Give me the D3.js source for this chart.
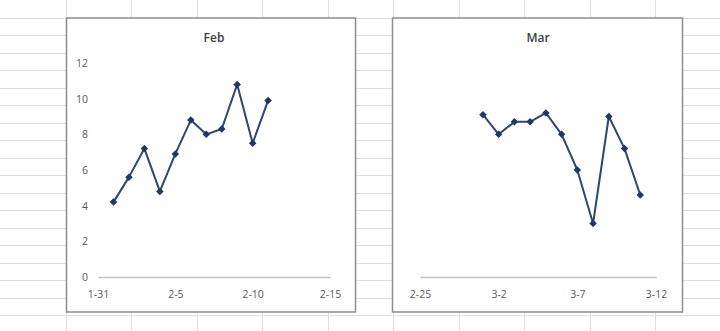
<!DOCTYPE html>
<html>
    <head>
        <meta charset="utf-8">
        <script src="https://d3js.org/d3.v7.min.js"></script>
        <title>Feb / Mar</title>
    </head>
    <body>
        <div id="my_dataviz"></div>
    </body>
    <style>
        body {
            margin: 0;
            background: #fff;
            font-family: "Open Sans", Lato, Helvetica, Arial, sans-serif;
        }
    </style>
    <script>
        // data
        var febDays = ["2015-02-01", "2015-02-02", "2015-02-03", "2015-02-04", "2015-02-05", "2015-02-06",
                       "2015-02-07", "2015-02-08", "2015-02-09", "2015-02-10", "2015-02-11"];
        var febValues = [4.2, 5.6, 7.2, 4.8, 6.9, 8.8, 8.0, 8.3, 10.8, 7.5, 9.9];
        var febTicks = ["2015-01-31", "2015-02-05", "2015-02-10", "2015-02-15"];

        var marDays = ["2015-03-01", "2015-03-02", "2015-03-03", "2015-03-04", "2015-03-05", "2015-03-06",
                       "2015-03-07", "2015-03-08", "2015-03-09", "2015-03-10", "2015-03-11"];
        var marValues = [9.1, 8.0, 8.7, 8.7, 9.2, 8.0, 6.0, 3.0, 9.0, 7.2, 4.6];
        var marTicks = ["2015-02-25", "2015-03-02", "2015-03-07", "2015-03-12"];

        var yTicks = [0, 2, 4, 6, 8, 10, 12];

        var W = 720, H = 331;
        var parse = d3.utcParse("%Y-%m-%d");
        var fmt = d3.utcFormat("%-m-%-d");

        var svg = d3.select("#my_dataviz")
            .append("svg")
            .attr("width", W)
            .attr("height", H);

        // spreadsheet grid behind the charts
        var grid = svg.append("g").attr("stroke", "#dedede").attr("stroke-width", 1);
        d3.range(1, 12).forEach(function(i) {
            var x = Math.round(65.5 * i) + 0.5;
            grid.append("line").attr("x1", x).attr("x2", x).attr("y1", 0).attr("y2", H);
        });
        d3.range(1, 20).forEach(function(i) {
            var y = Math.round(17.5 * i) + 0.5;
            grid.append("line").attr("x1", 0).attr("x2", W).attr("y1", y).attr("y2", y);
        });

        function drawChart(opt) {
            var g = svg.append("g");

            // chart area
            g.append("rect")
                .attr("x", opt.box[0])
                .attr("y", 18)
                .attr("width", opt.box[1] - opt.box[0])
                .attr("height", 294)
                .attr("fill", "#fff")
                .attr("stroke", "#8c8c8c")
                .attr("stroke-width", 1.5);

            var x = d3.scaleUtc()
                .domain([parse(opt.ticks[0]), parse(opt.ticks[opt.ticks.length - 1])])
                .range(opt.range);
            var y = d3.scaleLinear()
                .domain([0, 12])
                .range([277, 63]);

            g.append("text")
                .attr("x", (opt.range[0] + opt.range[1]) / 2)
                .attr("y", 42)
                .attr("text-anchor", "middle")
                .attr("font-size", 12)
                .attr("font-weight", 600)
                .attr("fill", "#404040")
                .text(opt.title);

            // x axis: baseline + date labels
            var xAxis = d3.axisBottom(x)
                .tickValues(opt.ticks.map(parse))
                .tickFormat(fmt)
                .tickSize(0)
                .tickPadding(14);
            var ax = g.append("g")
                .attr("transform", "translate(0," + y(0) + ")")
                .call(xAxis);
            ax.select(".domain").attr("stroke", "#bfbfbf").attr("stroke-width", 1.3);
            ax.selectAll("text")
                .attr("font-size", 10.5)
                .attr("font-family", "'Open Sans', sans-serif")
                .attr("fill", "#595959");

            if (opt.yAxis) {
                var yAxis = d3.axisLeft(y)
                    .tickValues(yTicks)
                    .tickSize(0)
                    .tickPadding(0);
                var ay = g.append("g")
                    .attr("transform", "translate(88,0)")
                    .call(yAxis);
                ay.select(".domain").remove();
                ay.selectAll("text")
                    .attr("font-size", 10.5)
                    .attr("font-family", "'Open Sans', sans-serif")
                    .attr("fill", "#595959");
            }

            var pts = opt.days.map(function(d, i) { return {date: parse(d), value: opt.values[i]}; });

            g.append("path")
                .datum(pts)
                .attr("fill", "none")
                .attr("stroke", "#2e4670")
                .attr("stroke-width", 2)
                .attr("stroke-linejoin", "round")
                .attr("d", d3.line()
                    .x(function(d) { return x(d.date); })
                    .y(function(d) { return y(d.value); }));

            // excel-style diamond markers (rotated square)
            g.append("g")
                .selectAll("path")
                .data(pts)
                .enter()
                .append("path")
                .attr("transform", function(d) { return "translate(" + x(d.date) + "," + y(d.value) + ") rotate(45)"; })
                .attr("d", d3.symbol().type(d3.symbolSquare).size(28))
                .attr("fill", "#1f3864");
        }

        drawChart({title: "Feb", box: [66.5, 355.5], range: [98, 330],
                   ticks: febTicks, days: febDays, values: febValues, yAxis: true});
        drawChart({title: "Mar", box: [392.5, 682.5], range: [420, 656],
                   ticks: marTicks, days: marDays, values: marValues, yAxis: false});
    </script>
</html>
